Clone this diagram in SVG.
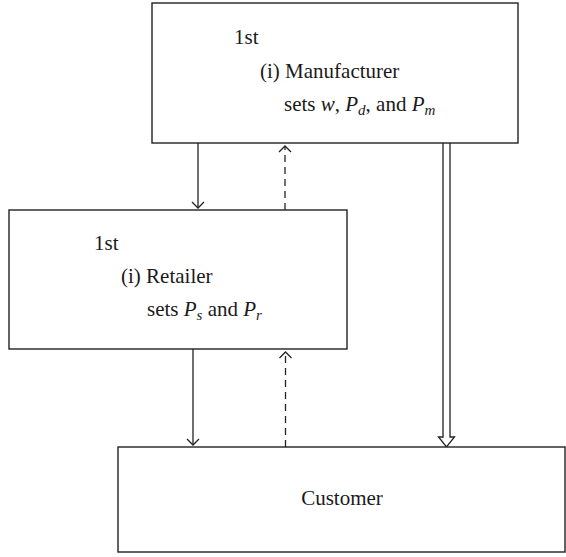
<svg xmlns="http://www.w3.org/2000/svg" width="566" height="557" viewBox="0 0 566 557">
  <style>
    .box { fill: #ffffff; stroke: #222222; stroke-width: 1.4; }
    .lbl { font-family: "Liberation Serif", "Times New Roman", serif; font-size: 21px; fill: #1a1a1a; }
    .it { font-style: italic; }
    .sub { font-size: 15px; font-style: italic; }
    .flow { stroke: #222222; stroke-width: 1.3; fill: none; }
    .dash { stroke-dasharray: 7 5; }
  </style>
  <defs>
    <marker id="open" viewBox="0 0 14 14" refX="7" refY="7" markerWidth="14" markerHeight="14" markerUnits="userSpaceOnUse" orient="auto">
      <path d="M1,1 L7,7 L1,13" fill="none" stroke="#222222" stroke-width="1.3"/>
    </marker>
  </defs>

  <g id="connectors">
    <!-- manufacturer to retailer -->
    <line class="flow" x1="198" y1="143" x2="198" y2="208" marker-end="url(#open)"/>
    <line class="flow dash" x1="285" y1="210" x2="285" y2="146" marker-end="url(#open)"/>
    <!-- retailer to customer -->
    <line class="flow" x1="193" y1="349" x2="193" y2="445" marker-end="url(#open)"/>
    <line class="flow dash" x1="285.5" y1="447" x2="285.5" y2="352" marker-end="url(#open)"/>
    <!-- direct channel: hollow double arrow -->
    <path class="flow" d="M443,143 L443,437 L438.5,437 L446.5,447 L454.5,437 L450,437 L450,143"/>
  </g>

  <g id="manufacturer">
    <rect class="box" x="152" y="3" width="366" height="140"/>
    <text class="lbl" x="234" y="44">1st</text>
    <text class="lbl" x="260" y="78">(i) Manufacturer</text>
    <text class="lbl" x="284" y="111">sets <tspan class="it">w</tspan>, <tspan class="it">P</tspan><tspan class="sub" dy="4">d</tspan><tspan dy="-4">, and </tspan><tspan class="it">P</tspan><tspan class="sub" dy="4">m</tspan></text>
  </g>

  <g id="retailer">
    <rect class="box" x="9" y="210" width="338" height="139"/>
    <text class="lbl" x="94" y="250">1st</text>
    <text class="lbl" x="121" y="283">(i) Retailer</text>
    <text class="lbl" x="147" y="316">sets <tspan class="it">P</tspan><tspan class="sub" dy="4">s</tspan><tspan dy="-4"> and </tspan><tspan class="it">P</tspan><tspan class="sub" dy="4">r</tspan></text>
  </g>

  <g id="customer">
    <rect class="box" x="118" y="447" width="447" height="105"/>
    <text class="lbl" x="342" y="505" text-anchor="middle">Customer</text>
  </g>
</svg>
